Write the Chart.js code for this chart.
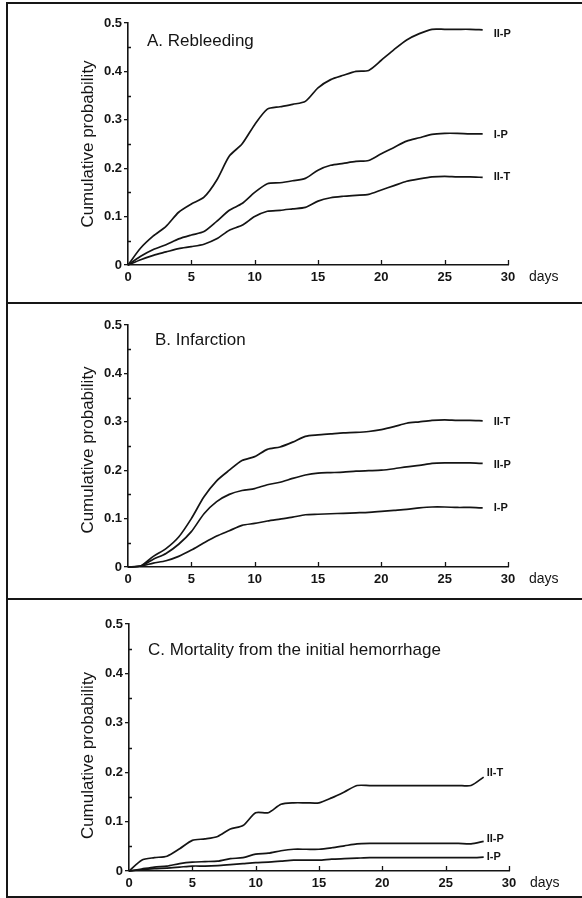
<!DOCTYPE html>
<html lang="en">
<head>
<meta charset="UTF-8">
<title>Cumulative probability</title>
<script src="https://cdn.jsdelivr.net/npm/chart.js@4.4.1/dist/chart.umd.min.js"></script>
<style>
  body { margin: 0; background: #fff; }
  .page { position: relative; width: 582px; height: 898px; overflow: hidden; }
  .panel { position: absolute; left: 0; width: 582px; }
  .rule { position: absolute; background: #161616; }
</style>
</head>
<body>
<div class="page">
  <div class="panel" style="top:0;height:300px"><canvas id="chartA"></canvas></div>
  <div class="panel" style="top:300px;height:299px"><canvas id="chartB"></canvas></div>
  <div class="panel" style="top:600px;height:298px"><canvas id="chartC"></canvas></div>

  <div class="rule" style="left:6px;top:2px;width:2px;height:896px"></div>
  <div class="rule" style="left:6px;top:2px;width:576px;height:2px"></div>
  <div class="rule" style="left:6px;top:302px;width:576px;height:2px"></div>
  <div class="rule" style="left:6px;top:598px;width:576px;height:2px"></div>
  <div class="rule" style="left:6px;top:896px;width:576px;height:2px"></div>
</div>

<script>
// days since the initial hemorrhage
const days = [0, 1, 2, 3, 4, 5, 6, 7, 8, 9, 10, 11, 12, 13, 14, 15, 16, 17, 18, 19, 20, 21, 22, 23, 24, 25, 26, 27, 28];

// A. Rebleeding
const rebleedIIP = [0, 0.035, 0.06, 0.08, 0.109, 0.126, 0.14, 0.175, 0.225, 0.25, 0.29, 0.322, 0.327, 0.332, 0.338, 0.366, 0.383, 0.392, 0.4, 0.402, 0.423, 0.445, 0.465, 0.478, 0.487, 0.487, 0.487, 0.487, 0.486];
const rebleedIP  = [0, 0.018, 0.032, 0.042, 0.054, 0.062, 0.069, 0.09, 0.113, 0.127, 0.15, 0.168, 0.17, 0.174, 0.179, 0.196, 0.206, 0.21, 0.214, 0.216, 0.23, 0.243, 0.256, 0.263, 0.27, 0.272, 0.272, 0.271, 0.271];
const rebleedIIT = [0, 0.011, 0.02, 0.027, 0.034, 0.038, 0.043, 0.054, 0.072, 0.082, 0.1, 0.111, 0.113, 0.116, 0.119, 0.132, 0.139, 0.142, 0.144, 0.146, 0.155, 0.164, 0.173, 0.178, 0.182, 0.183, 0.182, 0.182, 0.181];

// B. Infarction
const infarctIIT = [0, 0.002, 0.022, 0.038, 0.062, 0.1, 0.145, 0.178, 0.2, 0.22, 0.228, 0.243, 0.248, 0.258, 0.27, 0.273, 0.275, 0.277, 0.278, 0.28, 0.284, 0.29, 0.297, 0.3, 0.303, 0.304, 0.303, 0.303, 0.302];
const infarctIIP = [0, 0.002, 0.016, 0.028, 0.047, 0.073, 0.11, 0.135, 0.15, 0.158, 0.162, 0.17, 0.175, 0.183, 0.19, 0.194, 0.195, 0.196, 0.198, 0.199, 0.2, 0.203, 0.207, 0.21, 0.214, 0.215, 0.215, 0.215, 0.214];
const infarctIP  = [0, 0.002, 0.008, 0.013, 0.022, 0.035, 0.05, 0.064, 0.075, 0.086, 0.09, 0.095, 0.099, 0.103, 0.108, 0.109, 0.11, 0.111, 0.112, 0.113, 0.115, 0.117, 0.119, 0.122, 0.124, 0.124, 0.123, 0.123, 0.122];

// C. Mortality from the initial hemorrhage
const mortIIT = [0, 0.022, 0.027, 0.03, 0.045, 0.062, 0.065, 0.07, 0.085, 0.092, 0.118, 0.118, 0.135, 0.138, 0.138, 0.138, 0.148, 0.16, 0.173, 0.173, 0.173, 0.173, 0.173, 0.173, 0.173, 0.173, 0.173, 0.173, 0.19];
const mortIIP = [0, 0.004, 0.008, 0.01, 0.015, 0.018, 0.019, 0.02, 0.025, 0.027, 0.034, 0.036, 0.041, 0.044, 0.044, 0.044, 0.047, 0.051, 0.055, 0.056, 0.056, 0.056, 0.056, 0.056, 0.056, 0.056, 0.056, 0.055, 0.06];
const mortIP  = [0, 0.003, 0.005, 0.006, 0.008, 0.01, 0.01, 0.011, 0.013, 0.015, 0.017, 0.018, 0.02, 0.022, 0.022, 0.022, 0.024, 0.025, 0.026, 0.027, 0.027, 0.027, 0.027, 0.027, 0.027, 0.027, 0.027, 0.027, 0.028];

const xTicks = [0, 5, 10, 15, 20, 25, 30];
const yTicks = [0, 0.1, 0.2, 0.3, 0.4, 0.5];
const yMinorTicks = [0.05, 0.15, 0.25, 0.35, 0.45];

const ink = '#141414';
const family = '"Liberation Sans", Arial, Helvetica, sans-serif';

// titles, labels and extra ticks drawn on top of each panel
const decor = {
  id: 'decor',
  afterDraw(chart, args, opts) {
    const { ctx, chartArea: a, scales: { x, y } } = chart;
    ctx.save();
    ctx.strokeStyle = ink;
    ctx.fillStyle = ink;
    ctx.lineWidth = 1.3;

    ctx.beginPath();
    yMinorTicks.forEach(v => {
      const py = Math.round(y.getPixelForValue(v)) + 0.5;
      ctx.moveTo(a.left, py);
      ctx.lineTo(a.left + 3, py);
    });
    xTicks.forEach(v => {
      if (v === 0) return;
      const px = Math.round(x.getPixelForValue(v)) + 0.5;
      ctx.moveTo(px, a.bottom);
      ctx.lineTo(px, a.bottom - 5);
    });
    ctx.stroke();

    // panel title
    ctx.font = '17px ' + family;
    ctx.textAlign = 'left';
    ctx.textBaseline = 'alphabetic';
    ctx.fillText(opts.title, opts.titleX, opts.titleY);

    // y axis title
    ctx.save();
    ctx.translate(88, (a.top + a.bottom) / 2 + opts.yTitleDy);
    ctx.rotate(-Math.PI / 2);
    ctx.textAlign = 'center';
    ctx.textBaseline = 'middle';
    ctx.fillText('Cumulative probability', 0, 0);
    ctx.restore();

    // unit after the last x tick
    ctx.font = '14px ' + family;
    ctx.textBaseline = 'middle';
    ctx.fillText('days', a.right + 21, a.bottom + opts.daysDy);

    // curve labels at the end of each line
    ctx.font = 'bold 11px ' + family;
    chart.data.datasets.forEach((ds, i) => {
      const pts = chart.getDatasetMeta(i).data;
      const p = pts[pts.length - 1];
      ctx.fillText(ds.label, p.x + opts.labelDx, p.y + opts.labelDy[i]);
    });
    ctx.restore();
  }
};

const makeChart = (id, box, series, deco) => {
  new Chart(document.getElementById(id), {
    type: 'line',
    data: {
      datasets: series.map(s => ({
        label: s.label,
        data: days.map((d, i) => ({ x: d, y: s.values[i] })),
        borderColor: ink,
        borderWidth: 1.7,
        pointRadius: 0,
        tension: 0.25,
        fill: false,
        clip: 6
      }))
    },
    options: {
      responsive: true,
      maintainAspectRatio: false,
      animation: false,
      events: [],
      layout: { padding: { top: box.top, right: 582 - box.right, left: 0, bottom: 0 } },
      plugins: {
        legend: { display: false },
        tooltip: { enabled: false },
        decor: deco
      },
      scales: {
        x: {
          type: 'linear',
          min: 0,
          max: 30,
          afterBuildTicks: s => { s.ticks = xTicks.map(v => ({ value: v })); },
          afterFit: s => { s.height = box.xHeight; },
          grid: { display: false, drawTicks: false },
          border: { display: true, color: ink, width: 1.6 },
          ticks: {
            color: ink,
            padding: 5,
            maxRotation: 0,
            font: { family, size: 13, weight: 'bold' },
            callback: v => String(v)
          }
        },
        y: {
          min: 0,
          max: 0.5,
          afterBuildTicks: s => { s.ticks = yTicks.map(v => ({ value: v })); },
          afterFit: s => { s.width = box.left; },
          grid: { display: true, drawOnChartArea: false, drawTicks: true, tickLength: 4, color: ink, lineWidth: 1.3 },
          border: { display: true, color: ink, width: 1.6 },
          ticks: {
            color: ink,
            padding: 2,
            font: { family, size: 13, weight: 'bold' },
            callback: v => (v === 0 ? '0' : v.toFixed(1))
          }
        }
      }
    },
    plugins: [decor]
  });
};

makeChart('chartA',
  { top: 23, right: 508, left: 128, xHeight: 35 },
  [
    { label: 'II-P', values: rebleedIIP },
    { label: 'I-P', values: rebleedIP },
    { label: 'II-T', values: rebleedIIT }
  ],
  { title: 'A. Rebleeding', titleX: 147, titleY: 46, yTitleDy: 0, daysDy: 12, labelDx: 11, labelDy: [4, 1, 0] }
);

makeChart('chartB',
  { top: 25, right: 508, left: 128, xHeight: 32 },
  [
    { label: 'II-T', values: infarctIIT },
    { label: 'II-P', values: infarctIIP },
    { label: 'I-P', values: infarctIP }
  ],
  { title: 'B. Infarction', titleX: 155, titleY: 45, yTitleDy: 4, daysDy: 12, labelDx: 11, labelDy: [1, 2, 0] }
);

makeChart('chartC',
  { top: 24, right: 509, left: 129, xHeight: 27 },
  [
    { label: 'II-T', values: mortIIT },
    { label: 'II-P', values: mortIIP },
    { label: 'I-P', values: mortIP }
  ],
  { title: 'C. Mortality from the initial hemorrhage', titleX: 148, titleY: 55, yTitleDy: 8, daysDy: 12, labelDx: 3, labelDy: [-4, -2, 0] }
);
</script>
</body>
</html>
